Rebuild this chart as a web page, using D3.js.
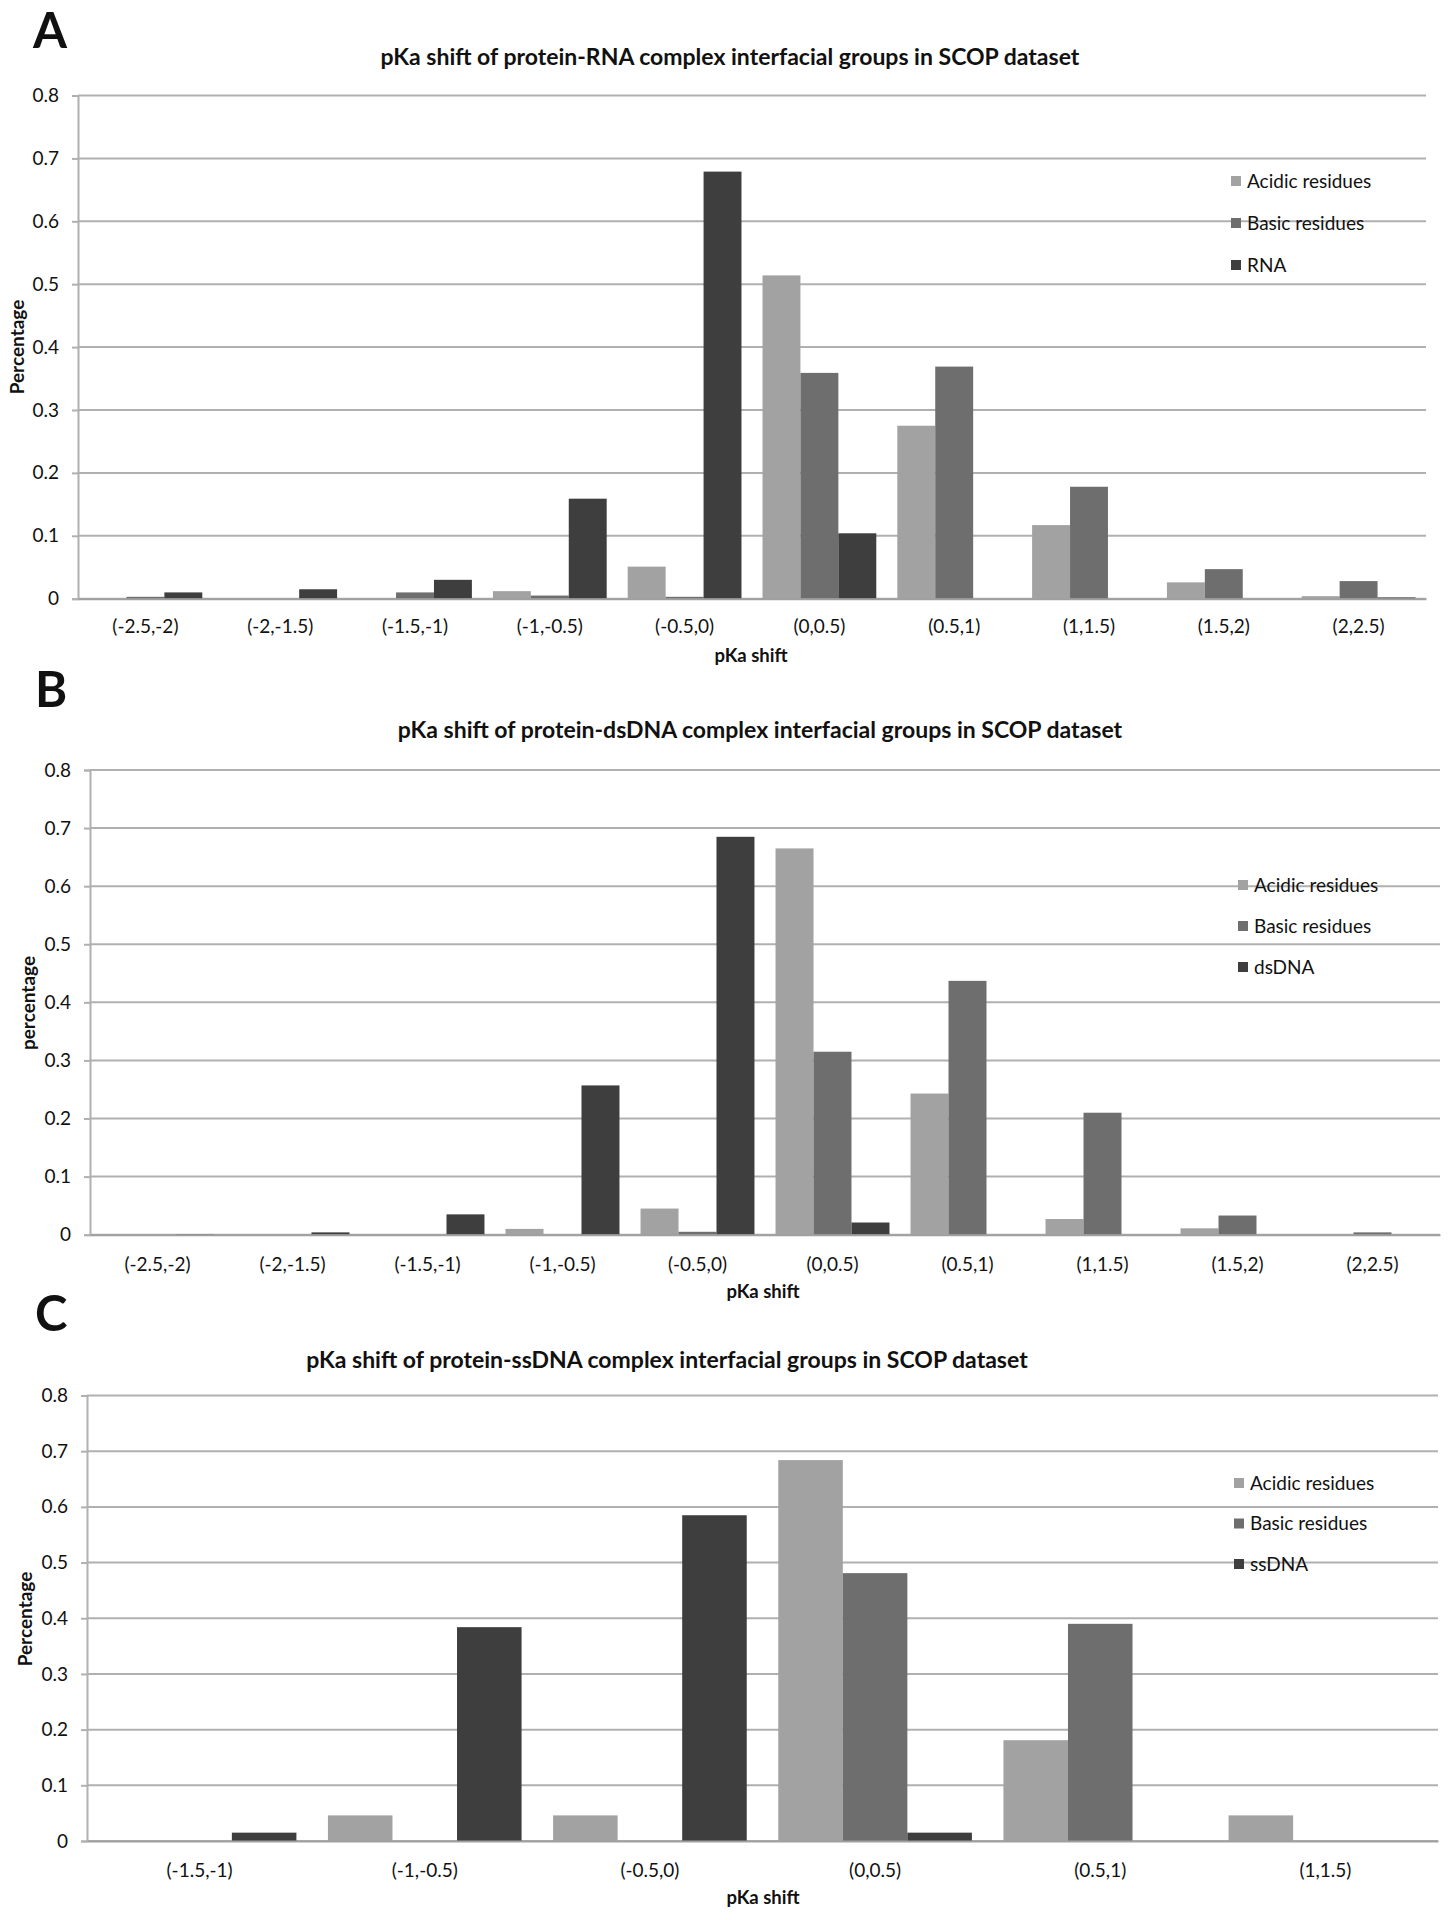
<!DOCTYPE html>
<html>
<head>
<meta charset="utf-8">
<script src="https://cdn.jsdelivr.net/npm/d3@7"></script>
<style>
  body { margin: 0; background: #fff; }
  text { font-family: Lato, "Open Sans", sans-serif; fill: #111; }
</style>
</head>
<body>
<div id="chart"></div>
<script>
// series names / colours
const seriesA = ['Acidic residues', 'Basic residues', 'RNA'];
const seriesB = ['Acidic residues', 'Basic residues', 'dsDNA'];
const seriesC = ['Acidic residues', 'Basic residues', 'ssDNA'];
const colors = ['#a2a2a2', '#6e6e6e', '#3e3e3e'];

// categories
const bins10 = ['(-2.5,-2)', '(-2,-1.5)', '(-1.5,-1)', '(-1,-0.5)', '(-0.5,0)',
                '(0,0.5)', '(0.5,1)', '(1,1.5)', '(1.5,2)', '(2,2.5)'];
const bins6 = ['(-1.5,-1)', '(-1,-0.5)', '(-0.5,0)', '(0,0.5)', '(0.5,1)', '(1,1.5)'];

const yTicks = [0, 0.1, 0.2, 0.3, 0.4, 0.5, 0.6, 0.7, 0.8];

// panel A : protein-RNA
const rnaAcidic = [0, 0, 0, 0.012, 0.051, 0.514, 0.275, 0.117, 0.026, 0.004];
const rnaBasic  = [0.003, 0, 0.010, 0.005, 0.003, 0.359, 0.369, 0.178, 0.047, 0.028];
const rnaRNA    = [0.010, 0.015, 0.030, 0.159, 0.679, 0.104, 0, 0, 0, 0.002];

// panel B : protein-dsDNA
const dsAcidic = [0, 0, 0, 0.010, 0.045, 0.665, 0.243, 0.027, 0.011, 0];
const dsBasic  = [0, 0, 0, 0, 0.005, 0.315, 0.437, 0.210, 0.033, 0.004];
const dsDNA    = [0.001, 0.004, 0.035, 0.257, 0.685, 0.021, 0, 0, 0, 0];

// panel C : protein-ssDNA
const ssAcidic = [0, 0.046, 0.046, 0.684, 0.181, 0.046];
const ssBasic  = [0, 0, 0, 0.481, 0.390, 0];
const ssDNA    = [0.015, 0.384, 0.585, 0.015, 0, 0];

const W = 1452, H = 1920;
const svg = d3.select('#chart').append('svg')
  .attr('width', W)
  .attr('height', H);

function drawPanel(p) {
  const g = svg.append('g');

  // panel letter
  g.append('text')
    .attr('x', p.letterX).attr('y', p.letterY)
    .style('font-size', '49px').style('font-weight', 'bold')
    .text(p.letter);

  // title
  g.append('text')
    .attr('x', p.titleX).attr('y', p.titleY)
    .attr('text-anchor', 'middle')
    .style('font-size', '23px').style('font-weight', 'bold')
    .text(p.title);

  const x = d3.scaleBand()
    .domain(p.cats)
    .range([p.left, p.right])
    .paddingInner(p.pad)
    .paddingOuter(p.pad / 2);

  const xs = d3.scaleBand()
    .domain(d3.range(p.series.length))
    .range([0, x.bandwidth()]);

  const y = d3.scaleLinear()
    .domain([0, 0.8])
    .range([p.bottom, p.top]);

  // gridlines
  g.append('g')
    .selectAll('line')
    .data(yTicks)
    .enter().append('line')
    .attr('x1', p.left).attr('x2', p.right)
    .attr('y1', d => y(d)).attr('y2', d => y(d))
    .style('stroke', '#b0b0b0')
    .style('stroke-width', 2);

  // y axis
  const yAxis = g.append('g')
    .attr('transform', `translate(${p.left},0)`)
    .call(d3.axisLeft(y).tickValues(yTicks).tickSize(6).tickPadding(13)
      .tickFormat(d => d === 0 ? '0' : d3.format('.1f')(d)));
  yAxis.select('.domain').style('stroke', '#b0b0b0').style('stroke-width', 2);
  yAxis.selectAll('.tick line').style('stroke', '#b0b0b0').style('stroke-width', 2);
  yAxis.selectAll('.tick text')
    .style('font-size', '19px')
    .style('font-family', 'Lato, sans-serif')
    .style('fill', '#111');

  // bars
  const rows = p.cats.map((c, i) => ({ cat: c, vals: p.values.map(v => v[i]) }));
  const grp = g.append('g')
    .selectAll('g')
    .data(rows)
    .enter().append('g')
    .attr('transform', d => `translate(${x(d.cat)},0)`);
  grp.selectAll('rect')
    .data(d => d.vals)
    .enter().append('rect')
    .attr('x', (d, i) => xs(i))
    .attr('width', xs.bandwidth())
    .attr('y', d => y(d))
    .attr('height', d => p.bottom - y(d))
    .style('fill', (d, i) => colors[i]);

  // x axis
  const xAxis = g.append('g')
    .attr('transform', `translate(0,${p.bottom})`)
    .call(d3.axisBottom(x).tickSize(0).tickPadding(p.xPad));
  xAxis.select('.domain').style('stroke', '#a0a0a0').style('stroke-width', 2);
  xAxis.selectAll('.tick text')
    .style('font-size', '19px')
    .style('font-family', 'Lato, sans-serif')
    .style('fill', '#111');

  // axis titles
  g.append('text')
    .attr('x', p.xTitleX).attr('y', p.xTitleY)
    .attr('text-anchor', 'middle')
    .style('font-size', '18.5px').style('font-weight', 'bold')
    .text('pKa shift');
  g.append('text')
    .attr('transform', `translate(${p.yTitleX},${p.yTitleY}) rotate(-90)`)
    .attr('text-anchor', 'middle')
    .style('font-size', '19px').style('font-weight', 'bold')
    .text(p.yTitle);

  // legend
  const lg = g.append('g')
    .selectAll('g')
    .data(p.series)
    .enter().append('g')
    .attr('transform', (d, i) => `translate(${p.legX},${p.legY + i * p.legStep})`);
  lg.append('rect')
    .attr('x', 0).attr('y', -5)
    .attr('width', 10).attr('height', 10)
    .style('fill', (d, i) => colors[i]);
  lg.append('text')
    .attr('x', 16).attr('dy', '0.35em')
    .style('font-size', '19px')
    .text(d => d);
}

drawPanel({
  letter: 'A', letterX: 33, letterY: 48,
  title: 'pKa shift of protein-RNA complex interfacial groups in SCOP dataset',
  titleX: 730, titleY: 65,
  cats: bins10, series: seriesA, values: [rnaAcidic, rnaBasic, rnaRNA],
  left: 78, right: 1426, top: 95.5, bottom: 598.7, pad: 0.156, xPad: 21,
  xTitleX: 751, xTitleY: 662, yTitle: 'Percentage', yTitleX: 24, yTitleY: 347,
  legX: 1231, legY: 181, legStep: 42
});

drawPanel({
  letter: 'B', letterX: 35, letterY: 707,
  title: 'pKa shift of protein-dsDNA complex interfacial groups in SCOP dataset',
  titleX: 760, titleY: 738,
  cats: bins10, series: seriesB, values: [dsAcidic, dsBasic, dsDNA],
  left: 90, right: 1440, top: 770, bottom: 1234.7, pad: 0.156, xPad: 23,
  xTitleX: 763, xTitleY: 1298, yTitle: 'percentage', yTitleX: 35, yTitleY: 1003,
  legX: 1238, legY: 885, legStep: 41
});

drawPanel({
  letter: 'C', letterX: 35, letterY: 1331,
  title: 'pKa shift of protein-ssDNA complex interfacial groups in SCOP dataset',
  titleX: 667, titleY: 1368,
  cats: bins6, series: seriesC, values: [ssAcidic, ssBasic, ssDNA],
  left: 87, right: 1438, top: 1395.5, bottom: 1841, pad: 0.14, xPad: 22.5,
  xTitleX: 763, xTitleY: 1904, yTitle: 'Percentage', yTitleX: 32, yTitleY: 1619,
  legX: 1234, legY: 1483, legStep: 40.5
});
</script>
</body>
</html>
